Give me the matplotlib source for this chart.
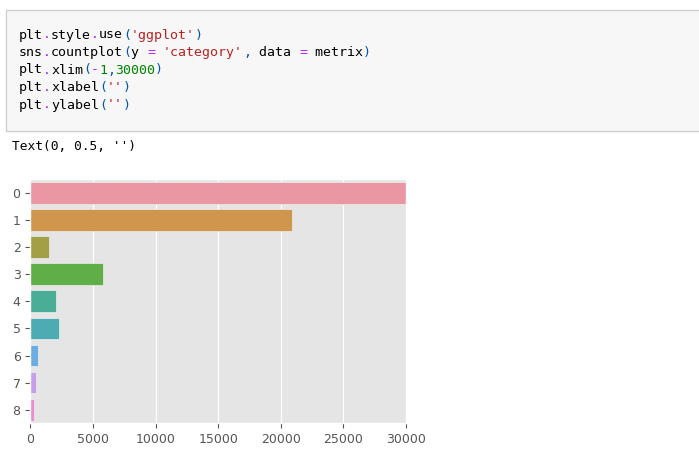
import matplotlib
matplotlib.use('Agg')
import matplotlib.pyplot as plt
import seaborn as sns
from matplotlib.patches import Rectangle

# 카테고리별 개수 (그림에서 읽은 값, 0번은 30000에서 잘림)
categories = ['0', '1', '2', '3', '4', '5', '6', '7', '8']
counts = [31500, 20920, 1470, 5800, 2030, 2290, 590, 480, 295]
xticks = [0, 5000, 10000, 15000, 20000, 25000, 30000]

# 노트북 셀 코드 (토큰, 색)
BLACK, PURPLE, BLUE, RED, GREEN = '#000000', '#aa22ff', '#0055aa', '#ba2121', '#008000'
code_lines = [
    [('plt', BLACK), ('.', PURPLE), ('style', BLACK), ('.', PURPLE), ('use', BLACK),
     ('(', BLUE), ("'ggplot'", RED), (')', BLUE)],
    [('sns', BLACK), ('.', PURPLE), ('countplot', BLACK), ('(', BLUE), ('y ', BLACK),
     ('=', PURPLE), (' ', BLACK), ("'category'", RED), (',', BLUE), (' data ', BLACK),
     ('=', PURPLE), (' metrix', BLACK), (')', BLUE)],
    [('plt', BLACK), ('.', PURPLE), ('xlim', BLACK), ('(', BLUE), ('-', PURPLE),
     ('1', GREEN), (',', BLUE), ('30000', GREEN), (')', BLUE)],
    [('plt', BLACK), ('.', PURPLE), ('xlabel', BLACK), ('(', BLUE), ("''", RED), (')', BLUE)],
    [('plt', BLACK), ('.', PURPLE), ('ylabel', BLACK), ('(', BLUE), ("''", RED), (')', BLUE)],
]
output_text = "Text(0, 0.5, '')"

W, H = 699, 457
plt.style.use('ggplot')
fig = plt.figure(figsize=(W / 100, H / 100), dpi=100)
fig.patch.set_facecolor('white')

# 코드 셀 박스
fig.patches.append(Rectangle((6 / W, 1 - 131 / H), 700 / W, 121 / H, transform=fig.transFigure,
                             facecolor='#f7f7f7', edgecolor='#cfcfcf', linewidth=1))

char_w = 8.0
for i, tokens in enumerate(code_lines):
    y = 35 + i * 17.5
    col = 0
    for tok, color in tokens:
        fig.text((19 + col * char_w) / W, 1 - y / H, tok, color=color,
                 family='DejaVu Sans Mono', fontsize=9.57, va='center', ha='left')
        col += len(tok)

fig.text(12 / W, 1 - 147 / H, output_text, color='#000000', family='DejaVu Sans Mono',
         fontsize=9.3, va='center', ha='left')

# 차트
left, right, top, bottom = 30.3, 406, 179.3, 423.3
ax = fig.add_axes([left / W, 1 - bottom / H, (right - left) / W, (bottom - top) / H])
palette = [sns.desaturate(c, 0.75) for c in sns.husl_palette(len(categories), l=.7)]
ypos = list(range(len(categories)))
ax.barh(ypos, counts, height=0.8, color=palette, edgecolor='#eeeeee', linewidth=0.5)
ax.set_xlim(-1, 30000)
ax.set_ylim(len(categories) - 0.5, -0.5)
ax.set_yticks(ypos)
ax.set_yticklabels(categories)
ax.set_xticks(xticks)
ax.yaxis.grid(False)
ax.set_xlabel('')
ax.set_ylabel('')
ax.tick_params(labelsize=9, colors='#555555')

fig.savefig('out.png', dpi=100)
